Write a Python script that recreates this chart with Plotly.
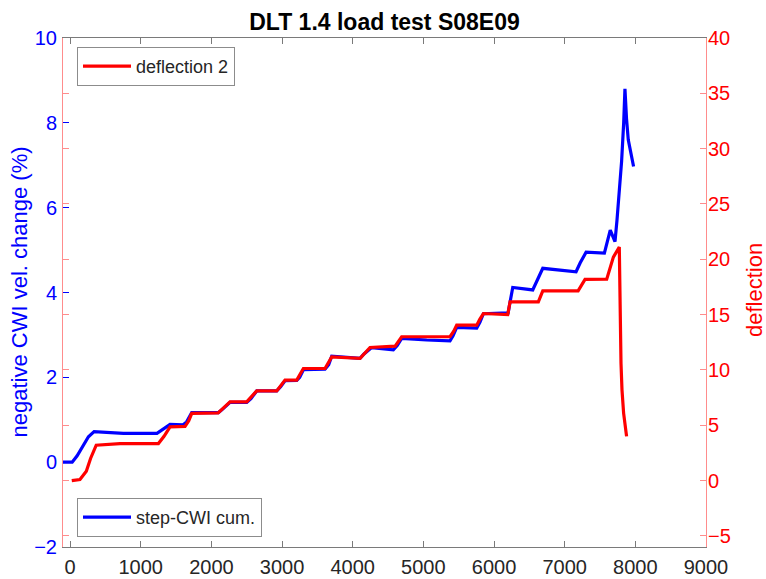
import plotly.graph_objects as go

# ---- data ----
time_blue = [-100, 30, 100, 190, 260, 340, 500, 754, 1230, 1300, 1415, 1600, 1650, 1722,
             2100, 2160, 2264, 2500, 2560, 2642, 2925, 2980, 3042, 3208, 3250, 3302,
             3608, 3660, 3703, 4104, 4160, 4269, 4575, 4630, 4693, 5047, 5377, 5420,
             5472, 5755, 5800, 5850, 6200, 6230, 6265, 6548, 6610, 6690, 7161, 7220,
             7303, 7562, 7645, 7712, 7740, 7772, 7806, 7835, 7853, 7875, 7900, 7975]
cwi_cum = [0, 0, 0.15, 0.4, 0.6, 0.72, 0.7, 0.68, 0.68, 0.76, 0.89, 0.88, 0.95, 1.17,
           1.17, 1.25, 1.41, 1.41, 1.5, 1.68, 1.68, 1.78, 1.92, 1.93, 2.0, 2.18,
           2.19, 2.3, 2.5, 2.45, 2.55, 2.7, 2.65, 2.75, 2.92, 2.88, 2.86, 2.98,
           3.18, 3.16, 3.3, 3.5, 3.52, 3.8, 4.12, 4.06, 4.3, 4.57, 4.49, 4.7,
           4.95, 4.93, 5.47, 5.2, 5.7, 6.34, 7.1, 8.0, 8.8, 8.1, 7.6, 6.97]

time_red = [24, 140, 230, 290, 370, 707, 1250, 1330, 1415, 1627, 1680, 1722, 2095, 2180,
            2264, 2500, 2570, 2642, 2925, 2990, 3042, 3208, 3260, 3302, 3608, 3660,
            3703, 4104, 4180, 4245, 4600, 4650, 4693, 5377, 5430, 5472, 5755, 5800,
            5850, 6194, 6210, 6227, 6627, 6660, 6690, 7190, 7240, 7288, 7595, 7689,
            7773, 7778, 7785, 7797, 7811, 7834, 7876]
deflection = [0, 0.1, 0.85, 2.0, 3.2, 3.35, 3.35, 4.0, 4.85, 4.9, 5.4, 6.07, 6.12, 6.6,
              7.12, 7.12, 7.6, 8.11, 8.11, 8.6, 9.08, 9.08, 9.6, 10.13, 10.13, 10.7,
              11.18, 11.05, 11.6, 12.03, 12.15, 12.6, 13.0, 13.0, 13.5, 14.05, 14.05, 14.6,
              15.1, 15.0, 15.6, 16.16, 16.16, 16.6, 17.15, 17.15, 17.7, 18.18, 18.2, 20.2,
              21.1, 18.0, 13.6, 10.6, 8.2, 6.1, 4.0]

x_ticks = list(range(0, 9001, 1000))
left_ticks = [-2, 0, 2, 4, 6, 8, 10]
right_ticks = [-5, 0, 5, 10, 15, 20, 25, 30, 35, 40]

FONT = "Liberation Sans, Arial, Helvetica, sans-serif"
BLUE = "#0000ff"
RED = "#ff0000"
PINK = "rgba(255,0,0,0.45)"
GRAY = "#7a7a7a"

fig = go.Figure()
fig.add_trace(go.Scatter(x=time_blue, y=cwi_cum, mode="lines", name="step-CWI cum.",
                         line=dict(color=BLUE, width=3.2), legend="legend2", yaxis="y",
                         showlegend=True))
fig.add_trace(go.Scatter(x=time_red, y=deflection, mode="lines", name="deflection 2",
                         line=dict(color=RED, width=3.2), legend="legend", yaxis="y2",
                         showlegend=True))

fig.update_layout(
    width=766, height=579, autosize=False,
    margin=dict(l=63, r=60, t=38, b=32),
    showlegend=True,
    paper_bgcolor="white", plot_bgcolor="white",
    font=dict(family=FONT, color="#262626"),
    title=dict(text="<b>DLT 1.4 load test S08E09</b>", x=(384.5 / 766), xanchor="center",
               y=1 - 22 / 579, yanchor="middle", font=dict(size=23, color="#000000")),
    xaxis=dict(range=[-100, 9000], tickvals=x_ticks, ticks="inside", ticklen=6,
               tickcolor=GRAY, showline=True, linecolor=GRAY, linewidth=1, mirror="ticks",
               showgrid=False, zeroline=False, automargin=False, ticklabelstandoff=2,
               tickfont=dict(size=20, color="#262626")),
    yaxis=dict(range=[-2, 10], tickvals=left_ticks, ticks="inside", ticklen=6,
               tickcolor=BLUE, showline=False, showgrid=False, zeroline=False,
               automargin=False, ticklabelstandoff=5,
               tickfont=dict(size=20, color=BLUE)),
    yaxis2=dict(range=[-6, 40], tickvals=right_ticks, ticks="inside", ticklen=6,
                tickcolor=PINK, showline=True, linecolor=PINK, linewidth=1, mirror="ticks",
                overlaying="y", side="right", showgrid=False, zeroline=False,
                automargin=False, ticklabelstandoff=-3,
                tickfont=dict(size=20, color=RED)),
    legend=dict(x=(77 - 63) / 643, y=(547 - 47) / 509, xanchor="left", yanchor="top",
                bgcolor="white", bordercolor="#8c8c8c", borderwidth=1, itemwidth=48,
                font=dict(size=18, color="#262626")),
    legend2=dict(x=(77 - 63) / 643, y=(547 - 537) / 509, xanchor="left", yanchor="bottom",
                 bgcolor="white", bordercolor="#8c8c8c", borderwidth=1, itemwidth=48,
                 font=dict(size=18, color="#262626")),
    annotations=[
        dict(text="negative CWI vel. change (%)", xref="paper", yref="paper",
             x=(19 - 63) / 643, y=0.5, xanchor="center", yanchor="middle",
             textangle=-90, showarrow=False, font=dict(size=22, color=BLUE)),
        dict(text="deflection", xref="paper", yref="paper",
             x=(754 - 63) / 643, y=(547 - 290) / 509, xanchor="center", yanchor="middle",
             textangle=-90, showarrow=False, font=dict(size=22, color=RED)),
    ],
)

fig.write_html("out.html", config={"displayModeBar": False},
               post_script="document.body.style.margin='0';")
